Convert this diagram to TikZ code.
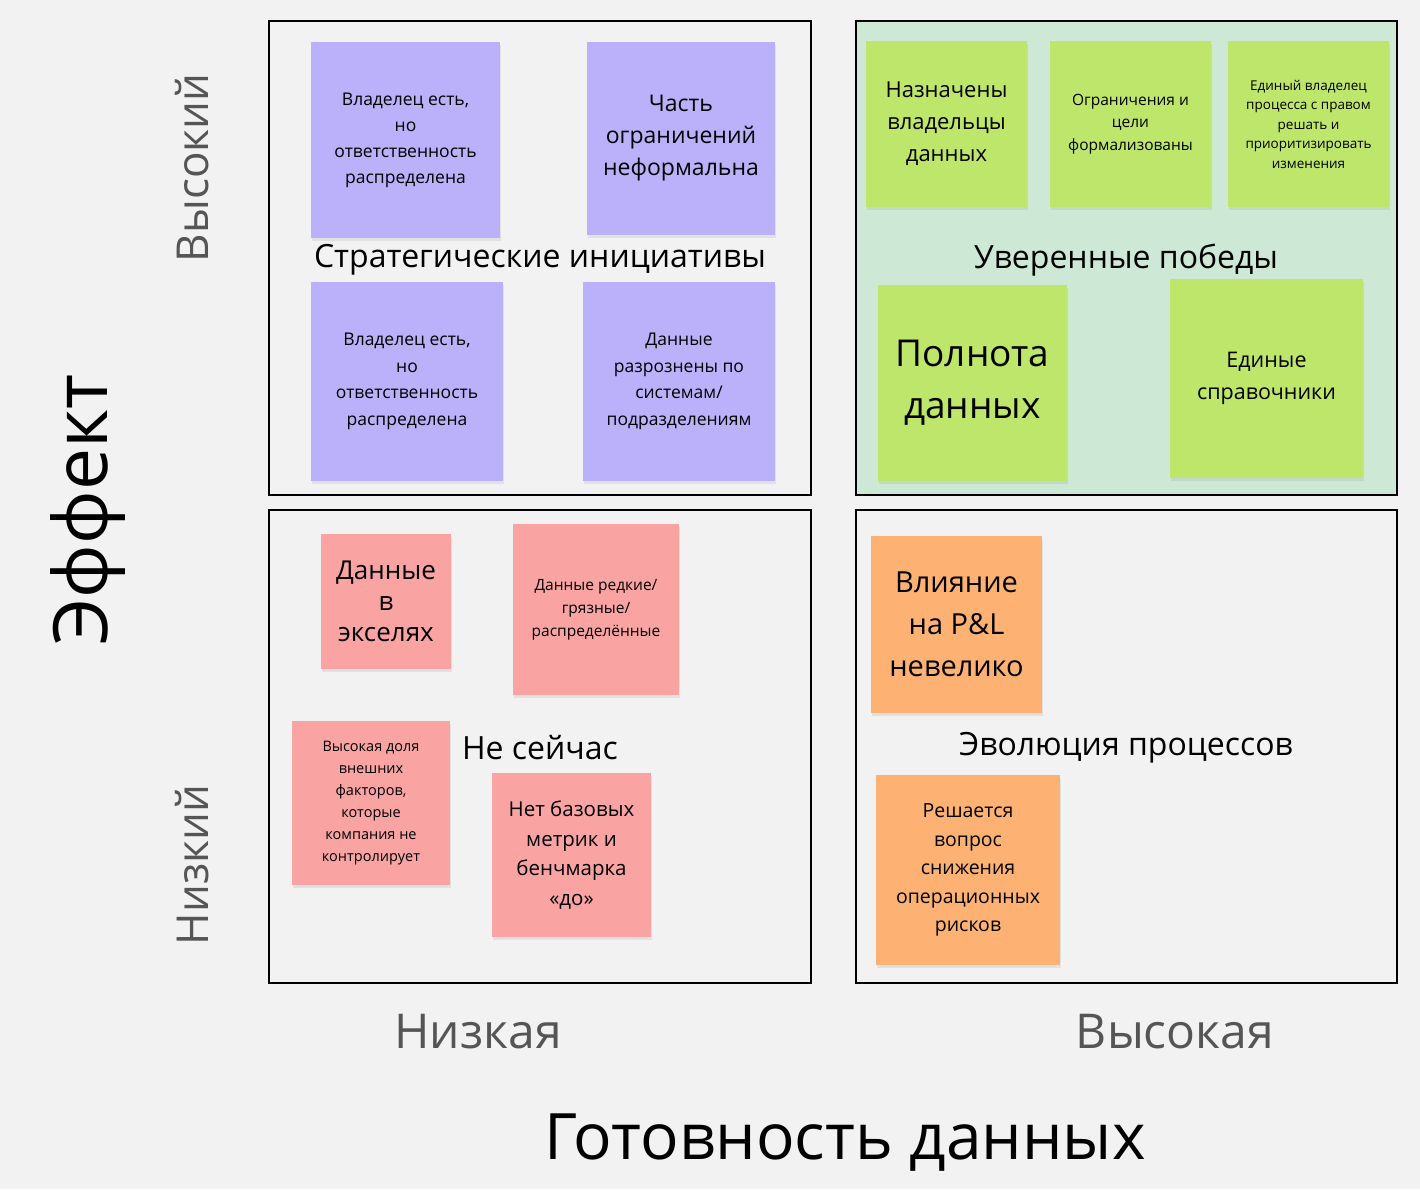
\documentclass[tikz,border=0pt]{standalone}
\usepackage{fontspec}
\setmainfont{Open Sans}
\usetikzlibrary{shadows}
\definecolor{bg}{HTML}{F2F2F2}
\definecolor{quadgreen}{HTML}{CDE9D6}
\definecolor{purp}{HTML}{BBB0FA}
\definecolor{grn}{HTML}{BEE66B}
\definecolor{pnk}{HTML}{F9A3A3}
\definecolor{org}{HTML}{FDB273}
\definecolor{axgray}{HTML}{555555}
\newcommand{\fz}[2]{\fontsize{#1}{#2}\selectfont}
\tikzset{
 quad/.style={draw=black,line width=2pt},
 qlabel/.style={font=\fz{32}{40},inner sep=0pt},
 axl/.style={text=axgray,inner sep=0pt},
}
\newcommand{\stk}[8]{%
 \fill[#2,drop shadow={shadow xshift=1pt,shadow yshift=-3pt,opacity=0.15}] (#3,#4) rectangle (#5,#6);
 \node[align=center,inner sep=0pt,font=#7] (#1) at ({(#3+#5)/2},{(#4+#6)/2}) {#8};}
\begin{document}
\begin{tikzpicture}[x=1pt,y=-1pt]
\fill[bg] (0,0) rectangle (1420,1189);
\useasboundingbox (0,0) rectangle (1420,1189);
\draw[quad] (269,21) rectangle (811,495);
\draw[quad,fill=quadgreen] (856,21) rectangle (1397,495);
\draw[quad] (269,510) rectangle (811,983);
\draw[quad] (856,510) rectangle (1397,983);
% TL
\stk{a1}{purp}{311}{42}{500}{238}{\fz{17.5}{26}}{Владелец есть,\\но\\ответственность\\распределена}
\stk{a2}{purp}{587}{42}{775}{235}{\fz{23}{32}}{Часть\\ограничений\\неформальна}
\stk{a3}{purp}{311}{282}{503}{481}{\fz{17.5}{26.5}}{Владелец есть,\\но\\ответственность\\распределена}
\stk{a4}{purp}{583}{282}{775}{481}{\fz{17.5}{26.5}}{Данные\\разрознены по\\системам/\\подразделениям}
\node[qlabel] (q1) at (540,260) {Стратегические инициативы};
% TR
\stk{b1}{grn}{866}{41}{1027}{207}{\fz{22}{32}}{Назначены\\владельцы\\данных}
\stk{b2}{grn}{1050}{41}{1211}{207}{\fz{15.5}{22.5}}{Ограничения и\\цели\\формализованы}
\stk{b3}{grn}{1228}{41}{1389}{207}{\fz{13.5}{19.5}}{Единый владелец\\процесса с правом\\решать и\\приоритизировать\\изменения}
\node[qlabel] (q2) at (1126,260) {Уверенные победы};
\stk{b4}{grn}{878}{285}{1067}{481}{\fz{37}{52}}{Полнота\\данных}
\stk{b5}{grn}{1170}{279}{1363}{478}{\fz{21.5}{32}}{Единые\\справочники}
% BL
\stk{c1}{pnk}{321}{534}{451}{669}{\fz{26}{31}}{Данные\\в\\экселях}
\stk{c2}{pnk}{513}{524}{679}{695}{\fz{15.5}{23}}{Данные редкие/\\грязные/\\распределённые}
\stk{c3}{pnk}{292}{721}{450}{885}{\fz{14.5}{22}}{Высокая доля\\внешних\\факторов,\\которые\\компания не\\контролирует}
\node[qlabel] (q3) at (540,748) {Не сейчас};
\stk{c4}{pnk}{492}{773}{651}{937}{\fz{20.5}{29.5}}{Нет базовых\\метрик и\\бенчмарка\\«до»}
% BR
\stk{d1}{org}{871}{536}{1042}{713}{\fz{29}{42}}{Влияние\\на P\&L\\невелико}
\stk{d2}{org}{876}{775}{1060}{965}{\fz{19.5}{28.5}}{Решается\\вопрос\\снижения\\операционных\\рисков}
\node[qlabel] (q4) at (1126,748) {Эволюция процессов};
% axes
\node[axl,rotate=90,font=\fz{44}{50}] (yh) at (192,168) {Высокий};
\node[axl,rotate=90,font=\fz{44}{50}] (yl) at (192,865) {Низкий};
\node[inner sep=0pt,rotate=90,font=\fz{75}{80}] (ye) at (88,510) {Эффект};
\node[axl,font=\fz{48}{54}] (xl) at (478,1032) {Низкая};
\node[axl,font=\fz{48}{54}] (xh) at (1175,1032) {Высокая};
\node[inner sep=0pt,font=\fz{64}{70}] (xt) at (845,1143) {Готовность данных};
\end{tikzpicture}
\end{document}
